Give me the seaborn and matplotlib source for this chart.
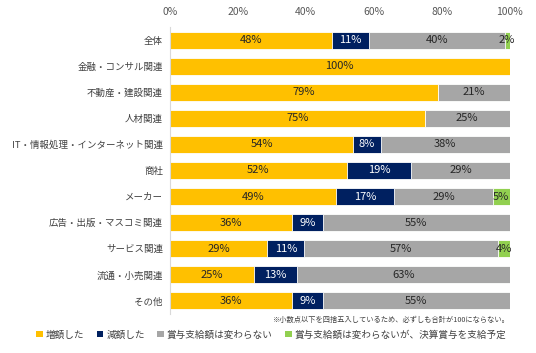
import matplotlib
matplotlib.use("Agg")
import matplotlib.pyplot as plt
import seaborn as sns
import pandas as pd
import numpy as np
from matplotlib.patches import Patch

categories = ["全体", "金融・コンサル関連", "不動産・建設関連", "人材関連",
              "IT・情報処理・インターネット関連", "商社", "メーカー",
              "広告・出版・マスコミ関連", "サービス関連", "流通・小売関連", "その他"]
increased = [47.6, 100, 79, 75, 54, 52, 49, 36, 28.6, 24.6, 36]
decreased = [10.9, 0, 0, 0, 8, 19, 17, 9, 11, 12.8, 9]
unchanged = [40, 0, 21, 25, 38, 29, 29, 55, 56.9, 62.6, 55]
settlement = [1.5, 0, 0, 0, 0, 0, 5, 0, 3.5, 0, 0]
series_names = ["増額した", "減額した", "賞与支給額は変わらない", "賞与支給額は変わらないが、決算賞与を支給予定"]
colors = ["#FFC000", "#002060", "#A6A6A6", "#92D050"]
text_colors = ["#262626", "white", "#262626", "#262626"]
tick_vals = [0, 20, 40, 60, 80, 100]
note = "※小数点以下を四捨五入しているため、必ずしも合計が100にならない。"

sns.set_theme(style="white")
plt.rcParams["font.family"] = ["Noto Sans CJK JP", "DejaVu Sans"]

series = [increased, decreased, unchanged, settlement]
cum = np.cumsum(np.array(series, dtype=float), axis=0)

fig = plt.figure(figsize=(5.36, 3.53), dpi=100)
ax = fig.add_axes([0.317, 0.1105, 0.634, 0.813])

for i in range(3, -1, -1):
    df = pd.DataFrame({"cat": categories, "val": cum[i]})
    sns.barplot(data=df, x="val", y="cat", orient="h", color=colors[i],
                width=0.65, edgecolor="white", linewidth=0.6, ax=ax,
                saturation=1)

for i, vals in enumerate(series):
    for j, v in enumerate(vals):
        if v <= 0:
            continue
        center = cum[i][j] - v / 2
        ax.text(center, j, f"{v:.0f}%", ha="center", va="center",
                fontsize=8, color=text_colors[i])

ax.set_xlim(0, 100)
ax.set_ylim(10.5, -0.5)
ax.set_xticks(tick_vals)
ax.set_xticklabels([f"{t}%" for t in tick_vals], fontsize=7.5, color="#595959")
ax.xaxis.tick_top()
ax.tick_params(axis="x", length=0, pad=7)
ax.tick_params(axis="y", length=0, pad=5, labelsize=6.8, labelcolor="#404040")
ax.set_xlabel("")
ax.set_ylabel("")
for s in ["top", "right", "bottom"]:
    ax.spines[s].set_visible(False)
ax.spines["left"].set_color("#D9D9D9")
ax.spines["left"].set_linewidth(0.8)

fig.text(0.951, 0.093, note, ha="right", va="center", fontsize=5.2, color="#404040")

handles = [Patch(facecolor=c, edgecolor="none") for c in colors]
fig.legend(handles, series_names, loc="center", bbox_to_anchor=(0.506, 0.052),
           ncol=4, frameon=False, fontsize=6.9, handlelength=0.7, handleheight=0.7,
           handletextpad=0.3, columnspacing=1.3, labelcolor="#404040")

fig.savefig("out.png", dpi=100)
